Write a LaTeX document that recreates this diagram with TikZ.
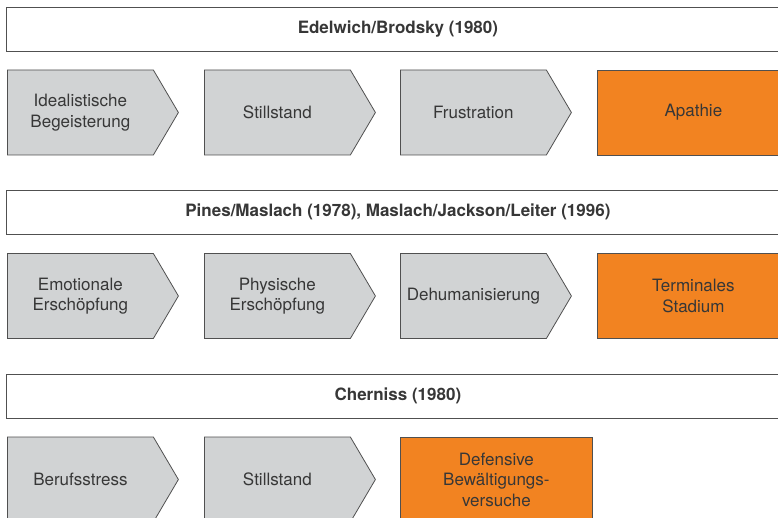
\documentclass[tikz,border=0pt]{standalone}
\usepackage{fontspec}
\setmainfont{TeX Gyre Heros}
\usetikzlibrary{shapes.symbols}
\definecolor{phasegray}{RGB}{209,211,212}
\definecolor{phaseorange}{RGB}{242,131,33}
\definecolor{phaseline}{RGB}{80,80,80}
\definecolor{phasetext}{RGB}{55,55,55}

\begin{document}
\begin{tikzpicture}[x=1pt, y=-1pt,
    phase/.style={signal, signal to=east, signal pointer angle=119,
      draw=phaseline, fill=phasegray, line width=0.8pt,
      minimum width=171pt, minimum height=85pt, inner sep=0pt,
      align=center, text=phasetext, font=\fontsize{17}{20.5}\selectfont, anchor=west},
    endphase/.style={rectangle, draw=phaseline, fill=phaseorange, line width=0.8pt,
      minimum width=192pt, minimum height=85pt, inner sep=0pt,
      align=center, text=phasetext, font=\fontsize{17}{20.5}\selectfont, anchor=west},
    model/.style={rectangle, draw=phaseline, fill=white, line width=0.8pt,
      minimum width=783pt, minimum height=44pt, inner sep=0pt,
      text=phasetext, font=\bfseries\fontsize{17}{20}\selectfont, anchor=west}]
    \useasboundingbox (0,0) rectangle (778,518);
    \clip (0,0) rectangle (778,518);

    % Edelwich/Brodsky
    \node[model] (edel) at (6, 29) {Edelwich/Brodsky (1980)};
    \node[phase] (edel1) at (7, 112.5) {Idealistische\\Begeisterung};
    \node[phase] (edel2) at (204, 112.5) {Stillstand};
    \node[phase] (edel3) at (400, 112.5) {Frustration};
    \node[endphase] (edel4) at (597, 112.5) {Apathie};

    % Pines/Maslach, Maslach/Jackson/Leiter
    \node[model] (pines) at (6, 212) {Pines/Maslach (1978), Maslach/Jackson/Leiter (1996)};
    \node[phase] (pines1) at (7, 296) {Emotionale\\Erschöpfung};
    \node[phase] (pines2) at (204, 296) {Physische\\Erschöpfung};
    \node[phase] (pines3) at (400, 296) {Dehumanisierung};
    \node[endphase] (pines4) at (597, 296) {Terminales\\Stadium};

    % Cherniss
    \node[model] (cher) at (6, 396) {Cherniss (1980)};
    \node[phase] (cher1) at (7, 479.5) {Berufsstress};
    \node[phase] (cher2) at (204, 479.5) {Stillstand};
    \node[endphase] (cher3) at (400, 479.5) {Defensive\\Bewältigungs-\\versuche};
\end{tikzpicture}
\end{document}
